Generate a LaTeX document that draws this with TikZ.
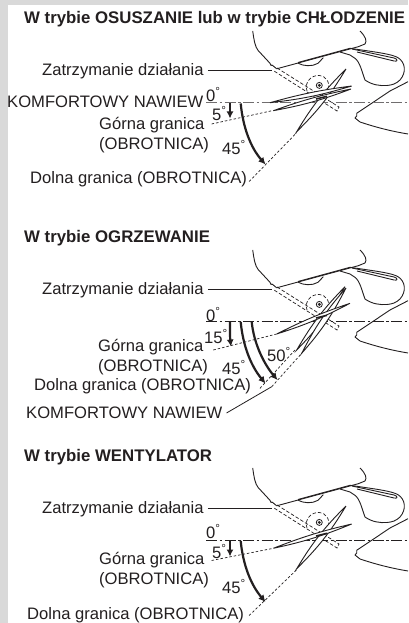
\documentclass[tikz,border=0pt]{standalone}
\usepackage{fontspec}
\usepackage{tikz}
\usetikzlibrary{arrows.meta}
\setmainfont{Liberation Sans}
\definecolor{ink}{HTML}{231F20}
\definecolor{panelgray}{HTML}{D9D9D9}
\newcommand{\dg}{\textsuperscript{°}}
\tikzset{
    lbl/.style={anchor=west, inner sep=0pt, yshift=-1.5pt, text=ink, font=\fontsize{16.6}{18}\selectfont},
    ttl/.style={anchor=west, inner sep=0pt, yshift=-1.5pt, text=ink, font=\fontsize{16.8}{18}\selectfont\bfseries},
    outline/.style={draw=ink, line width=0.9pt, line join=round},
    blade/.style={draw=ink, line width=0.9pt, fill=white},
    stopline/.style={draw=ink, line width=0.7pt, dash pattern=on 3.5pt off 2pt},
    limit/.style={draw=ink, line width=0.7pt, dash pattern=on 2.5pt off 2pt},
    axisline/.style={draw=ink, line width=0.8pt, dash pattern=on 11pt off 2.5pt on 2.5pt off 2.5pt},
    leader/.style={draw=ink, line width=0.8pt},
    sweep/.style={draw=ink, line width=2.2pt, -{Latex[length=7pt,width=7pt]}},
    unitbody/.pic={
        % Casing
        \draw[outline] (252.7,31) .. controls (254,40) and (255,47) .. (258.3,50.7) -- (270,63.3) -- (271,65.5) -- (272,65) -- (276.7,68.8) -- (358.3,46.7) -- (365,44) .. controls (367,41) and (366,37) .. (360,31);
        \draw[outline] (298,62.5) -- (350,48.3) .. controls (375,52) and (392,54) .. (398,57.7) .. controls (405,62) and (407,72) .. (400,80) .. controls (396,84) and (392,85) .. (387,85.5) .. controls (380,86) and (372,85) .. (365,80) .. controls (362,72) and (360,62) .. (355,58.3) -- (350,55) -- (340,52);
        \draw[outline] (352,49) -- (394,58) .. controls (398,59) and (398,62) .. (394,61) -- (357,52);
        \draw[outline] (298.3,63.3) .. controls (303,66) and (312,67) .. (318,63.3) -- (323.3,57.7);
        \draw[outline] (408,81.7) -- (390,91) -- (356.7,113.3) -- (356.7,116) -- (355,118) -- (360,122) .. controls (375,127) and (390,131) .. (408,134);
        % Stop position
        \draw[stopline] (277,68) -- (339,107) -- (337,111) -- (274,71);
        % Pivot
        \draw[stopline] (307,91) .. controls (304,83) and (311,75) .. (319,75.5) .. controls (327,76) and (331,84) .. (327.5,91.5);
        \draw[ink, line width=0.8pt] (319.3,85.4) circle (3pt);
        \fill[ink] (319.3,85.4) circle (1.6pt);
    },
    unithub/.pic={
        \draw[ink, line width=1.6pt] (316,99) -- (327,96.3);
    }
}

\begin{document}
\begin{tikzpicture}[x=1pt, y=-1pt]
    % Background
    \fill[panelgray] (0,0) rectangle (408,623);
    \fill[white] (8,5) rectangle (408,623);
    \useasboundingbox (0,0) rectangle (408,623);

    % Casings
    \pic at (0,0) {unitbody};
    \pic at (0,219) {unitbody};
    \pic at (0,437) {unitbody};

    % Nodes, first mode
    \node[ttl] (titleA) at (24,18) {W trybie OSUSZANIE lub w trybie CHŁODZENIE};
    \node[lbl] (stopA) at (42,70) {Zatrzymanie działania};
    \node[lbl] (comfortA) at (7,100) {KOMFORTOWY NAWIEW};
    \node[lbl] (zeroA) at (206,93) {0\dg};
    \node[lbl] (fiveA) at (212,112) {5\dg};
    \node[lbl] (upperA) at (99,124) {Górna granica};
    \node[lbl] (upperbA) at (99,144) {(OBROTNICA)};
    \node[lbl] (ffA) at (222,146) {45\dg};
    \node[lbl] (lowerA) at (30,178) {Dolna granica (OBROTNICA)};
    \coordinate (stopendA) at (272,70);
    \coordinate (axisA) at (408,102.5);
    \coordinate (upperendA) at (273,110.5);
    \coordinate (lowerendA) at (296.7,132.7);

    % Edges, first mode
    \draw[leader] (stopA.east) ++(4,-1.5) -- (stopendA);
    \draw[axisline, draw=ink!65, line width=1pt] (206,102.5) -- (axisA);
    \draw[limit] (upperA.east) ++(7,-1.5) -- (upperendA);
    \draw[limit] (lowerA.east) ++(2,2) -- (lowerendA);
    \draw[blade] (346,69) to[bend left=7] (296.7,131.7) to[bend left=7] (346,69);
    \draw[blade] (351.7,86) to[bend left=5] (270,102.7) to[bend left=4] (351.7,86);
    \draw[blade] (351,89) to[bend left=5] (273.3,110.7) to[bend left=4] (351,89);
    \pic at (0,0) {unithub};
    \draw[sweep] (230,103.5) -- (230,118.5);
    \draw[sweep] (240.7,103.5) .. controls (243,128) and (251,148) .. (265.5,164.5);

    % Nodes, second mode
    \node[ttl] (titleB) at (24,237) {W trybie OGRZEWANIE};
    \node[lbl] (stopB) at (42,289) {Zatrzymanie działania};
    \node[lbl] (zeroB) at (206,313) {0\dg};
    \node[lbl] (fifteenB) at (204,335) {15\dg};
    \node[lbl] (upperB) at (98,346) {Górna granica};
    \node[lbl] (upperbB) at (98,366) {(OBROTNICA)};
    \node[lbl] (ffB) at (222,366) {45\dg};
    \node[lbl] (fiftyB) at (267,353) {50\dg};
    \node[lbl] (lowerB) at (34,385) {Dolna granica (OBROTNICA)};
    \node[lbl] (comfortB) at (26,411) {KOMFORTOWY NAWIEW};
    \coordinate (stopendB) at (272,289);
    \coordinate (axisB) at (408,321.7);
    \coordinate (upperendB) at (276.7,334);
    \coordinate (lowerendB) at (295,350);
    \coordinate (comfortendB) at (301.7,353.3);
    \coordinate (kneeB) at (271.7,386.7);

    % Edges, second mode
    \draw[leader] (stopB.east) ++(4,-1.5) -- (stopendB);
    \draw[axisline] (206,321.7) -- (axisB);
    \draw[limit] (213.3,350) -- (upperendB);
    \draw[limit] (260,388.3) -- (lowerendB);
    \draw[limit] (kneeB) -- (comfortendB);
    \draw[leader] (comfortB.east) ++(4,0.5) -- (kneeB);
    \draw[blade] (345,286.7) to[bend left=7] (296.7,350) to[bend left=7] (345,286.7);
    \draw[blade] (346,288) to[bend left=7] (301.7,353.3) to[bend left=7] (346,288);
    \draw[blade] (350,303.3) to[bend left=5] (276.7,334) to[bend left=4] (350,303.3);
    \pic at (0,219) {unithub};
    \draw[sweep] (230,322) .. controls (230,331) and (230,338) .. (231,346.5);
    \draw[sweep] (240.7,322) .. controls (243,346) and (251,366) .. (265.5,383.5);
    \draw[sweep] (251.7,322) .. controls (254,344) and (264,364) .. (277.5,380);

    % Nodes, third mode
    \node[ttl] (titleC) at (24,456) {W trybie WENTYLATOR};
    \node[lbl] (stopC) at (42,508) {Zatrzymanie działania};
    \node[lbl] (zeroC) at (206,530) {0\dg};
    \node[lbl] (fiveC) at (212,550) {5\dg};
    \node[lbl] (upperC) at (99,559) {Górna granica};
    \node[lbl] (upperbC) at (99,579) {(OBROTNICA)};
    \node[lbl] (ffC) at (222,585) {45\dg};
    \node[lbl] (lowerC) at (27,614) {Dolna granica (OBROTNICA)};
    \coordinate (stopendC) at (272,508);
    \coordinate (axisC) at (408,540.3);
    \coordinate (upperendC) at (273.3,548.3);
    \coordinate (lowerendC) at (296.7,569.7);

    % Edges, third mode
    \draw[leader] (stopC.east) ++(4,-1.5) -- (stopendC);
    \draw[axisline] (206,540.3) -- (axisC);
    \draw[limit] (upperC.east) ++(7,0) -- (upperendC);
    \draw[limit] (lowerC.east) ++(5,0) -- (lowerendC);
    \draw[blade] (346,506) to[bend left=7] (296.7,568.7) to[bend left=7] (346,506);
    \draw[blade] (351.7,524) to[bend left=5] (273.3,548.3) to[bend left=4] (351.7,524);
    \pic at (0,437) {unithub};
    \draw[sweep] (230,541) -- (230,556.5);
    \draw[sweep] (240.7,541) .. controls (243,565) and (251,585) .. (265.5,602);
\end{tikzpicture}
\end{document}
